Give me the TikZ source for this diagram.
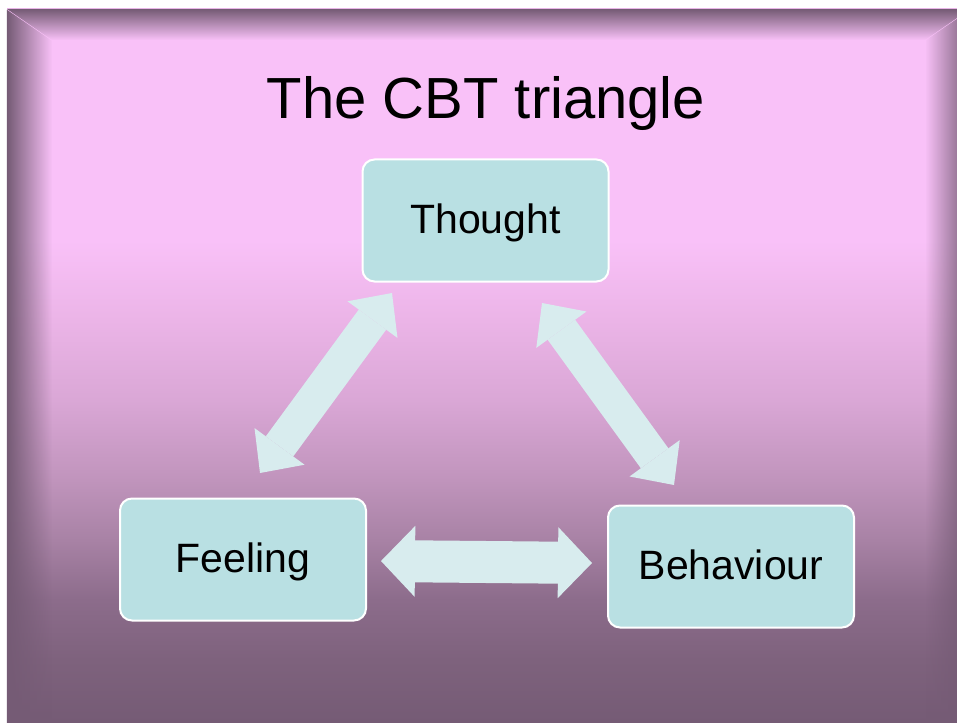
\documentclass[tikz,border=0pt]{standalone}
\usepackage{fontspec}
\setmainfont{Liberation Sans}
\usetikzlibrary{arrows.meta,fadings}

\definecolor{slidedark}{RGB}{117,91,117}
\definecolor{bgA}{RGB}{126,98,125}
\definecolor{bgB}{RGB}{140,108,139}
\definecolor{bgC}{RGB}{168,130,165}
\definecolor{bgD}{RGB}{192,148,188}
\definecolor{bgE}{RGB}{218,167,214}
\definecolor{bgF}{RGB}{235,180,231}
\definecolor{slidepink}{RGB}{249,193,248}
\definecolor{boxfill}{RGB}{185,224,227}
\definecolor{arrowfill}{RGB}{216,236,238}

\pgfdeclareverticalshading{slidebg}{100bp}{color(0bp)=(slidedark); color(25.9bp)=(slidedark);
  color(30.17bp)=(bgA); color(34.3bp)=(bgB); color(38.43bp)=(bgC); color(42.56bp)=(bgD);
  color(48.07bp)=(bgE); color(53.58bp)=(bgF); color(59.09bp)=(slidepink); color(100bp)=(slidepink)}

\begin{document}
\begin{tikzpicture}[x=1pt,y=-1pt]
\tikzstyle{every node}+=[inner sep=0pt]
\tikzset{
  box/.style={draw=white, line width=2pt, fill=boxfill, rounded corners=12pt,
    minimum width=246pt, minimum height=122pt, font=\fontsize{41}{49}\selectfont,
    text height=29pt, text depth=4pt},
  twoway/.style n args={3}{draw=arrowfill, line width=#1,
    {Triangle[length=#3 0 0,width=#2 0 0,line width=0pt]}-{Triangle[length=#3 0 0,width=#2 0 0,line width=0pt]}}
}
\useasboundingbox (0,0) rectangle (957,722);
\fill [white] (0,0) rectangle (957,722);
\clip (0,0) rectangle (957,722);
\shade [shading=slidebg] (7,9) rectangle (970,735);
\fill [slidedark, path fading=east] (7,9) -- (52,40) -- (52,735) -- (7,735) -- cycle;
\fill [slidedark, path fading=south] (7,9) -- (970,9) -- (925,40) -- (52,40) -- cycle;
\fill [slidedark, path fading=west] (970,9) -- (970,735) -- (925,735) -- (925,40) -- cycle;

\node [anchor=base, font=\fontsize{58}{70}\selectfont] (title) at (486,119) {The CBT triangle};
\node [box] (thought) at (485.5,220.5) {Thought};
\node [box] (feeling) at (243,559.5) {Feeling};
\node [box] (behaviour) at (731,566.5) {Behaviour};

\coordinate (feelingtop) at (260,473);
\coordinate (thoughtleft) at (392,293);
\coordinate (thoughtright) at (542,303);
\coordinate (behaviourtop) at (674,485);
\coordinate (feelingright) at (381,561);
\coordinate (behaviourleft) at (592,563);

\draw [twoway={34pt}{62pt}{33pt}] (feelingtop) -- (thoughtleft);
\draw [twoway={34pt}{62pt}{33pt}] (thoughtright) -- (behaviourtop);
\draw [twoway={42pt}{71pt}{34pt}] (feelingright) -- (behaviourleft);
\end{tikzpicture}
\end{document}
